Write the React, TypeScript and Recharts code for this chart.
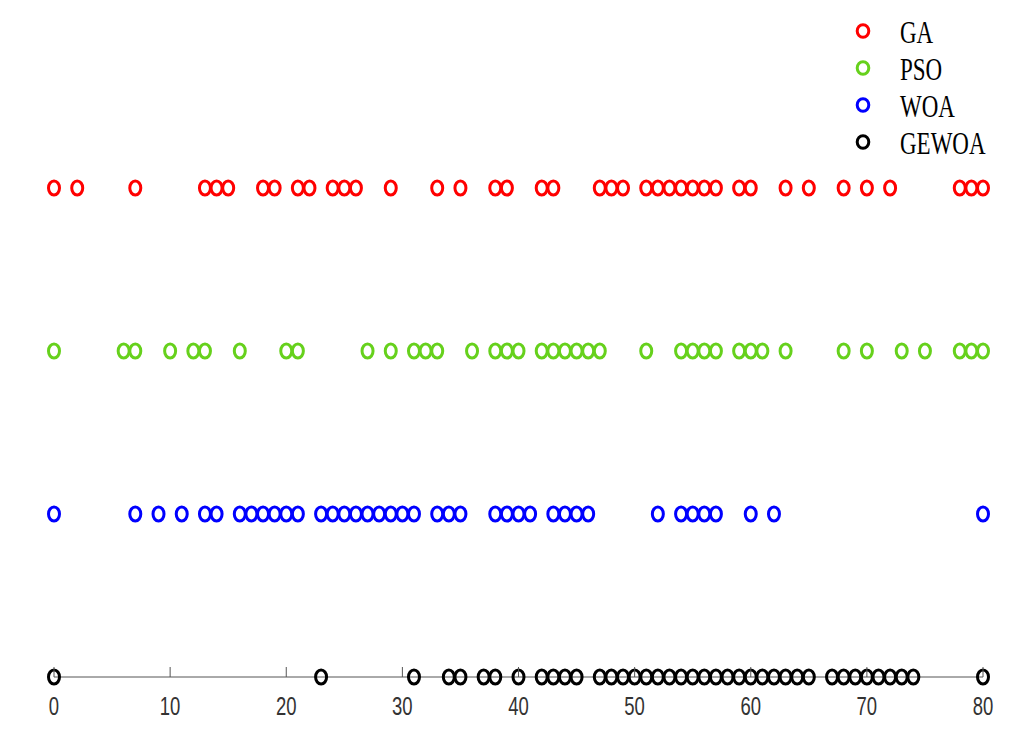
import React from 'react'
import { ScatterChart, Scatter, XAxis, YAxis, Legend } from 'recharts'

// x positions of the hits for each algorithm (one row per algorithm)
const gaHits = [0, 2, 7, 13, 14, 15, 18, 19, 21, 22, 24, 25, 26, 29, 33, 35, 38, 39, 42, 43, 47, 48, 49, 51, 52, 53, 54, 55, 56, 57, 59, 60, 63, 65, 68, 70, 72, 78, 79, 80]
const psoHits = [0, 6, 7, 10, 12, 13, 16, 20, 21, 27, 29, 31, 32, 33, 36, 38, 39, 40, 42, 43, 44, 45, 46, 47, 51, 54, 55, 56, 57, 59, 60, 61, 63, 68, 70, 73, 75, 78, 79, 80]
const woaHits = [0, 7, 9, 11, 13, 14, 16, 17, 18, 19, 20, 21, 23, 24, 25, 26, 27, 28, 29, 30, 31, 33, 34, 35, 38, 39, 40, 41, 43, 44, 45, 46, 52, 54, 55, 56, 57, 60, 62, 80]
const gewoaHits = [0, 23, 31, 34, 35, 37, 38, 40, 42, 43, 44, 45, 47, 48, 49, 50, 51, 52, 53, 54, 55, 56, 57, 58, 59, 60, 61, 62, 63, 64, 65, 67, 68, 69, 70, 71, 72, 73, 74, 80]

const seriesNames = ['GA', 'PSO', 'WOA', 'GEWOA']
const seriesRows = [4, 3, 2, 1]
const seriesColors = ['#ff0000', '#66d11c', '#0000ff', '#000000']
const xTicks = [0, 10, 20, 30, 40, 50, 60, 70, 80]

const allHits = [gaHits, psoHits, woaHits, gewoaHits]

const ringShape = (color: string) => (props: any) => {
  const { cx, cy } = props
  return <ellipse cx={cx} cy={cy} rx={5.5} ry={7} fill="none" stroke={color} strokeWidth={3} />
}

const AxisTick = ({ x, y, payload }: any) => (
  <g>
    <line x1={x} x2={x} y1={y - 10} y2={y} stroke="#555" strokeWidth={1} />
    <g transform={`translate(${x},${y + 38}) scale(1,1.35)`}>
      <text textAnchor="middle" fontSize={18.5} fill="#333" fontFamily="Arial, 'Liberation Sans', sans-serif">
        {payload.value}
      </text>
    </g>
  </g>
)

const renderLegend = () => (
  <svg width={170} height={150}>
    {seriesNames.map((name, i) => (
      <g key={name}>
        <ellipse cx={23} cy={21 + i * 37} rx={5.8} ry={6.3} fill="none" stroke={seriesColors[i]} strokeWidth={3} />
        <g transform={`translate(60,${33 + i * 37}) scale(1,1.33)`}>
          <text fontSize={23} fill="#000" fontFamily="'Liberation Serif', 'Times New Roman', serif">
            {name}
          </text>
        </g>
      </g>
    ))}
  </svg>
)

export default function App() {
  return (
    <div style={{ position: 'absolute', left: 0, top: 0, width: 1028, height: 742, background: '#fff' }}>
      <ScatterChart width={1028} height={742} margin={{ top: 25, right: 45, bottom: 25, left: 54 }}>
        <XAxis
          type="number"
          dataKey="x"
          domain={[0, 80]}
          ticks={xTicks}
          height={40}
          axisLine={{ stroke: '#555' }}
          tickLine={false}
          tickSize={0}
          tickMargin={0}
          tick={<AxisTick />}
        />
        <YAxis type="number" dataKey="y" domain={[1, 5]} hide />
        <Legend
          layout="horizontal"
          verticalAlign="middle"
          align="center"
          content={renderLegend}
          wrapperStyle={{ left: 840, top: 10, width: 170, height: 150 }}
        />
        {allHits.map((hits, i) => (
          <Scatter
            key={seriesNames[i]}
            name={seriesNames[i]}
            data={hits.map((x) => ({ x, y: seriesRows[i] }))}
            shape={ringShape(seriesColors[i])}
            isAnimationActive={false}
          />
        ))}
      </ScatterChart>
    </div>
  )
}
